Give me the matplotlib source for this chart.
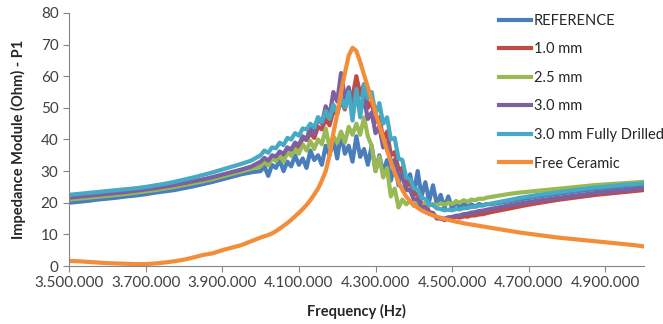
import numpy as np
import matplotlib
matplotlib.use("Agg")
import matplotlib.pyplot as plt
from matplotlib.ticker import FuncFormatter, MultipleLocator

plt.rcParams['font.family'] = ['Lato', 'DejaVu Sans']

# frequency grid (Hz): coarse at the ends, finer around the resonance
freq = np.concatenate([np.arange(3500000, 4000000, 25000),
                       np.arange(4000000, 4600000, 10000),
                       np.arange(4600000, 5000001, 25000)])

labels = ["REFERENCE", "1.0 mm", "2.5 mm", "3.0 mm", "3.0 mm Fully Drilled", "Free Ceramic"]
colors = ["#4A7EBB", "#BE4B48", "#98B954", "#7D60A0", "#46AAC5", "#F38D3A"]

reference = [
    20.0, 20.3, 20.6, 21.0, 21.3, 21.6, 22.0, 22.3, 22.7, 23.2, 23.6, 24.0, 24.6, 25.2, 25.9, 26.6, 27.4, 28.2, 29.0, 29.6,
    30, 31.5, 28.5, 32, 31, 33.5, 30, 33, 31.5, 35, 32, 34, 31, 36.5, 33.5, 35, 32, 38, 35, 40,
    34, 42, 35.5, 38, 33, 41, 34.5, 37, 32, 38, 30, 35, 29.5, 33.5, 27, 32.5, 25.5, 31, 24.5, 29,
    23, 30, 22, 26.5, 20.5, 25.5, 19.5, 22.5, 18.5, 22, 18, 20.5, 18.3, 20.2, 18.5, 19.5, 18.8, 19.6, 19.2, 19.6,
    19.5, 20, 20.5, 21, 21.5, 22, 22.4, 22.8, 23.2, 23.6, 24, 24.3, 24.6, 24.9, 25.2, 25.5, 25.7]

mm_1_0 = [
    21.3, 21.6, 21.9, 22.2, 22.5, 22.8, 23.1, 23.5, 23.9, 24.3, 24.8, 25.3, 25.9, 26.5, 27.1, 27.8, 28.6, 29.4, 30.3, 31.2,
    32.5, 33.5, 32.8, 34.5, 34.2, 35.5, 34.8, 37, 36.8, 38.5, 37.5, 40.5, 39.8, 42, 40.5, 44, 43.2, 46.5, 44.5, 49,
    48, 52.5, 49.5, 55, 53.5, 60, 54, 57.5, 50, 52, 45.5, 47, 40, 42.5, 35, 36, 30.5, 31, 26, 26.5,
    22.5, 22.8, 19.5, 19.8, 17, 16.8, 15, 15.2, 14.5, 15.2, 15, 15.5, 15.3, 15.7, 15.6, 16, 16, 16.3, 16.4, 16.7,
    17, 17.6, 18.2, 18.8, 19.4, 19.9, 20.4, 20.9, 21.3, 21.7, 22.1, 22.5, 22.8, 23.1, 23.4, 23.7, 24.0]

mm_2_5 = [
    21.0, 21.3, 21.6, 21.9, 22.2, 22.5, 22.8, 23.2, 23.6, 24.0, 24.5, 25.0, 25.6, 26.2, 26.8, 27.5, 28.3, 29.1, 29.9, 30.7,
    31.5, 33, 31.8, 34, 33.2, 35, 33, 36, 34.8, 37, 35.5, 38.5, 36.5, 39.5, 37, 40, 38.5, 43.5, 37.5, 41,
    39, 42.5, 39, 44, 41.5, 45, 41.5, 47, 41, 38, 30, 34.5, 28, 31, 22, 24.5, 18.5, 21, 19.5, 20.5,
    19, 20.2, 18.8, 19.8, 19.1, 19.6, 19.2, 19.8, 19.4, 20, 19.6, 20.4, 20, 20.8, 20.3, 21, 20.8, 21.3, 21.2, 21.6,
    21.8, 22.3, 22.8, 23.2, 23.5, 23.8, 24.1, 24.4, 24.7, 25.0, 25.3, 25.6, 25.8, 26.0, 26.2, 26.4, 26.6]

mm_3_0 = [
    21.6, 21.9, 22.2, 22.5, 22.8, 23.1, 23.4, 23.8, 24.2, 24.6, 25.1, 25.6, 26.2, 26.8, 27.4, 28.1, 28.9, 29.7, 30.5, 31.4,
    33, 34.2, 33.3, 35, 34.6, 36.2, 35.4, 37.5, 36.8, 39, 38.2, 41, 40, 44, 41.8, 47, 45, 50.5, 47.5, 55,
    52, 61, 53, 56.5, 50, 55, 48.5, 53, 46.5, 48.5, 42, 44, 37.5, 39, 33, 33.5, 28, 28.5, 24, 24,
    21, 21.2, 18.5, 18.7, 16.5, 16.5, 15.2, 15, 15, 15.4, 15.5, 15.9, 16, 16.4, 16.5, 16.9, 17, 17.4, 17.5, 17.8,
    18.0, 18.6, 19.2, 19.7, 20.2, 20.7, 21.1, 21.5, 21.9, 22.3, 22.7, 23.1, 23.4, 23.7, 24.0, 24.3, 24.6]

mm_3_0_drilled = [
    22.5, 22.8, 23.1, 23.4, 23.7, 24.0, 24.3, 24.6, 25.0, 25.5, 26.0, 26.6, 27.3, 28.0, 28.8, 29.6, 30.5, 31.4, 32.3, 33.3,
    35, 36.5, 35.8, 37.5, 37.2, 39, 38.2, 40.5, 40, 42, 41.2, 43.5, 43.2, 45, 43.8, 47, 45.5, 49, 46.5, 51,
    48.5, 53, 50, 55, 46, 56, 47, 57.5, 53, 55, 48, 51.5, 45, 47, 40, 40.5, 34, 33.5, 28, 27.5,
    24.5, 24.2, 21.5, 21.2, 19.5, 19.2, 18.2, 18, 17.6, 17.8, 17.6, 18, 17.9, 18.3, 18.3, 18.7, 18.7, 19.1, 19.1, 19.5,
    19.7, 20.3, 20.9, 21.5, 22.0, 22.5, 22.9, 23.3, 23.7, 24.1, 24.5, 24.8, 25.1, 25.4, 25.7, 25.9, 26.1]

free_ceramic = [
    1.6, 1.5, 1.3, 1.1, 0.9, 0.8, 0.7, 0.6, 0.6, 0.8, 1.1, 1.5, 2.0, 2.7, 3.5, 4.0, 5.0, 5.8, 6.6, 7.8,
    9.0, 9.4, 9.8, 10.3, 11.0, 11.8, 12.7, 13.6, 14.6, 15.7, 16.8, 18.0, 19.3, 20.8, 22.6, 24.5, 27.0, 30.0, 35.0, 42.0,
    48.0, 55.0, 61.0, 66.5, 69.0, 68.0, 64.5, 60.5, 56.5, 52.5, 48.5, 44.5, 40.5, 36.5, 33.0, 29.5, 26.5, 24.0, 22.0, 20.5,
    19.3, 18.4, 17.6, 17.0, 16.5, 16.0, 15.6, 15.2, 14.9, 14.6, 14.3, 14.0, 13.8, 13.5, 13.3, 13.1, 12.9, 12.7, 12.5, 12.3,
    12.1, 11.6, 11.1, 10.6, 10.2, 9.8, 9.4, 9.0, 8.7, 8.4, 8.1, 7.8, 7.5, 7.2, 6.9, 6.6, 6.2]

series = [reference, mm_1_0, mm_2_5, mm_3_0, mm_3_0_drilled, free_ceramic]

fig = plt.figure(figsize=(6.63, 3.24), dpi=100)
ax = fig.add_axes([0.104, 0.179, 0.867, 0.781])

for vals, lab, col in zip(series, labels, colors):
    ax.plot(freq, vals, color=col, linewidth=3.0, label=lab, solid_joinstyle="round")

ax.set_xlim(3500000, 5000000)
ax.set_ylim(0, 80)
ax.set_xticks(np.arange(3500000, 5000000, 200000))
ax.xaxis.set_major_formatter(FuncFormatter(lambda v, p: f"{v:,.0f}".replace(",", ".")))
ax.yaxis.set_major_locator(MultipleLocator(10))

for s in ["top", "right"]:
    ax.spines[s].set_visible(False)
for s in ["left", "bottom"]:
    ax.spines[s].set_color("#868686")
    ax.spines[s].set_linewidth(0.8)
ax.tick_params(axis="both", colors="#868686", labelcolor="#404040", labelsize=11, length=4, width=0.8)

ax.set_xlabel("Frequency (Hz)", fontsize=10.5, fontweight="bold", color="#262626", labelpad=10)
ax.set_ylabel("Impedance Module (Ohm) - P1", fontsize=10.5, fontweight="bold", color="#262626", labelpad=11)

ax.legend(loc="upper left", bbox_to_anchor=(0.752, 0.958), bbox_transform=fig.transFigure,
          frameon=False, fontsize=10.5, handlelength=2.2, handletextpad=0.2,
          labelspacing=1.0, borderpad=0, borderaxespad=0, labelcolor="#262626")

fig.savefig("out.png", dpi=100)
